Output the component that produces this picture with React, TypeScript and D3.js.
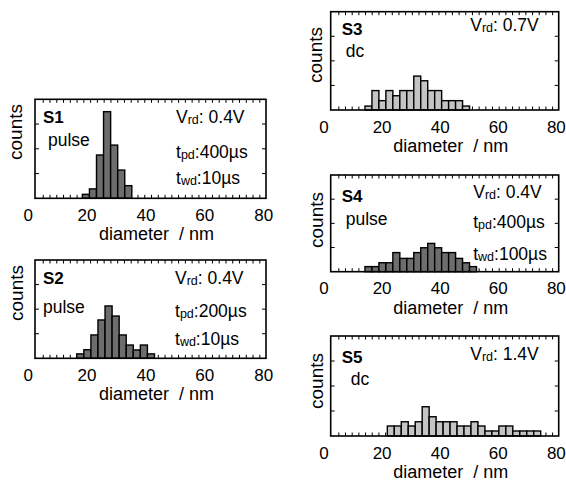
import React from "react";
import * as d3 from "d3";

// ---- data (bar heights, frame height = 40 units) ----
const binWidth = 2.4; // nm
const xTickLabels = [0, 20, 40, 60, 80];

const s1Start = 18.4;
const s1Counts = [1.6, 3.8, 17.5, 35, 21.5, 11.4, 5.1];

const s2Start = 16.5;
const s2Counts = [1.8, 3.5, 9.5, 15.6, 21.3, 17.2, 9.5, 5.4, 3.4, 5.4, 1.8];

const s3Start = 14.1;
const s3Counts = [1.6, 7.9, 3.8, 7.9, 5.8, 7.9, 7.9, 13.8, 11.9, 7.9, 7.9, 3.8, 3.8, 3.8, 1.6];

const s4Start = 14.1;
const s4Counts = [2.1, 2.1, 3.7, 3.7, 7.9, 5.5, 5.5, 7.9, 9.9, 11.7, 9.9, 7.9, 7.9, 5.5, 3.7, 2.1];

const s5Start = 21.8;
const s5Counts = [4.0, 4.0, 5.7, 4.0, 5.7, 11.7, 7.7, 5.7, 5.7, 5.7, 4.0, 4.0, 5.7, 4.0, 2.0, 2.0, 4.0, 4.0, 2.0, 2.0, 2.0, 2.0];

const FONT = "'Liberation Sans', Arial, Helvetica, sans-serif";
const DARK = "#6d6d6d";
const LIGHT = "#c4c4c4";

type Param = { main: string; sub: string; rest: string; dy: number };

type PanelProps = {
  left: number; right: number; top: number; bottom: number;
  start: number; counts: number[]; fill: string;
  name: string; mode: string;
  nameDx: number; nameDy: number; modeDx: number; modeDy: number;
  paramDx: number; params: Param[];
  countsX: number; countsY: number;
};

function Panel(p: PanelProps) {
  const x = d3.scaleLinear().domain([2.3, 80.8]).range([p.left, p.right]);
  const y = d3.scaleLinear().domain([0, 40]).range([p.bottom, p.top]);
  const minorX = d3.range(5.1, 80.5, 2.3);
  const minorY = [10, 20, 30];
  const bins = p.counts.map((c, i) => ({ x0: p.start + i * binWidth, x1: p.start + (i + 1) * binWidth, c }));
  return (
    <g fontFamily={FONT} fill="#000">
      {minorX.map((v, i) => (
        <g key={"tx" + i}>
          <line x1={x(v)} x2={x(v)} y1={p.bottom} y2={p.bottom - 3.5} stroke="#000" strokeWidth={1} />
          <line x1={x(v)} x2={x(v)} y1={p.top} y2={p.top + 3.5} stroke="#000" strokeWidth={1} />
        </g>
      ))}
      {minorY.map((v, i) => (
        <g key={"ty" + i}>
          <line x1={p.left} x2={p.left + 4} y1={y(v)} y2={y(v)} stroke="#000" strokeWidth={1} />
          <line x1={p.right} x2={p.right - 4} y1={y(v)} y2={y(v)} stroke="#000" strokeWidth={1} />
        </g>
      ))}
      {bins.map((b, i) => (
        <rect key={"b" + i} x={x(b.x0)} y={y(b.c)} width={x(b.x1) - x(b.x0)} height={y(0) - y(b.c)}
          fill={p.fill} stroke="#000" strokeWidth={1.4} />
      ))}
      <rect x={p.left} y={p.top} width={p.right - p.left} height={p.bottom - p.top}
        fill="none" stroke="#000" strokeWidth={1.6} />
      {xTickLabels.map((v) => (
        <text key={"l" + v} x={x(v)} y={p.bottom + 22.5} textAnchor="middle" fontSize={17}>{v}</text>
      ))}
      <text x={(p.left + p.right) / 2 + 6} y={p.bottom + 42} textAnchor="middle" fontSize={18} style={{ whiteSpace: "pre" }}>
        {"diameter  / nm"}
      </text>
      <text transform={`translate(${p.countsX},${p.countsY}) rotate(-90)`} textAnchor="middle" fontSize={19}>counts</text>
      <text x={p.left + p.nameDx} y={p.top + p.nameDy} fontSize={17} fontWeight="bold">{p.name}</text>
      <text x={p.left + p.modeDx} y={p.top + p.modeDy} fontSize={17.5}>{p.mode}</text>
      {p.params.map((q, i) => (
        <text key={"p" + i} x={p.left + p.paramDx} y={p.top + q.dy} fontSize={17.5}>
          {q.main}
          <tspan fontSize={12.5} dy={1}>{q.sub}</tspan>
          <tspan dy={-1}>{q.rest}</tspan>
        </text>
      ))}
    </g>
  );
}

export default function App() {
  return (
    <svg width={566} height={483} style={{ position: "absolute", left: 0, top: 0, background: "#fff" }}>
      <rect width={566} height={483} fill="#fff" />
      <Panel left={35} right={266} top={99.3} bottom={198.3} start={s1Start} counts={s1Counts} fill={DARK}
        name="S1" mode="pulse" nameDx={8} nameDy={24} modeDx={13} modeDy={47}
        paramDx={141} params={[
          { main: "V", sub: "rd", rest: ": 0.4V", dy: 24 },
          { main: "t", sub: "pd", rest: ":400µs", dy: 59 },
          { main: "t", sub: "wd", rest: ":10µs", dy: 85 },
        ]}
        countsX={21.5} countsY={132} />
      <Panel left={35} right={266} top={260} bottom={358.3} start={s2Start} counts={s2Counts} fill={DARK}
        name="S2" mode="pulse" nameDx={8} nameDy={23.5} modeDx={8} modeDy={53}
        paramDx={140} params={[
          { main: "V", sub: "rd", rest: ": 0.4V", dy: 23.5 },
          { main: "t", sub: "pd", rest: ":200µs", dy: 57 },
          { main: "t", sub: "wd", rest: ":10µs", dy: 85 },
        ]}
        countsX={22.5} countsY={293} />
      <Panel left={330.7} right={558.7} top={11.7} bottom={110} start={s3Start} counts={s3Counts} fill={LIGHT}
        name="S3" mode="dc" nameDx={11} nameDy={23.5} modeDx={15} modeDy={45}
        paramDx={139.5} params={[
          { main: "V", sub: "rd", rest: ": 0.7V", dy: 19 },
        ]}
        countsX={321.5} countsY={55} />
      <Panel left={330.7} right={558.7} top={175} bottom={271.7} start={s4Start} counts={s4Counts} fill={DARK}
        name="S4" mode="pulse" nameDx={11} nameDy={26.5} modeDx={15} modeDy={50}
        paramDx={142.5} params={[
          { main: "V", sub: "rd", rest: ": 0.4V", dy: 23.3 },
          { main: "t", sub: "pd", rest: ":400µs", dy: 53.3 },
          { main: "t", sub: "wd", rest: ":100µs", dy: 85 },
        ]}
        countsX={322.5} countsY={220} />
      <Panel left={330.7} right={558.7} top={336} bottom={436} start={s5Start} counts={s5Counts} fill={LIGHT}
        name="S5" mode="dc" nameDx={11} nameDy={27} modeDx={20} modeDy={49}
        paramDx={139.5} params={[
          { main: "V", sub: "rd", rest: ": 1.4V", dy: 24 },
        ]}
        countsX={322.5} countsY={381} />
    </svg>
  );
}
